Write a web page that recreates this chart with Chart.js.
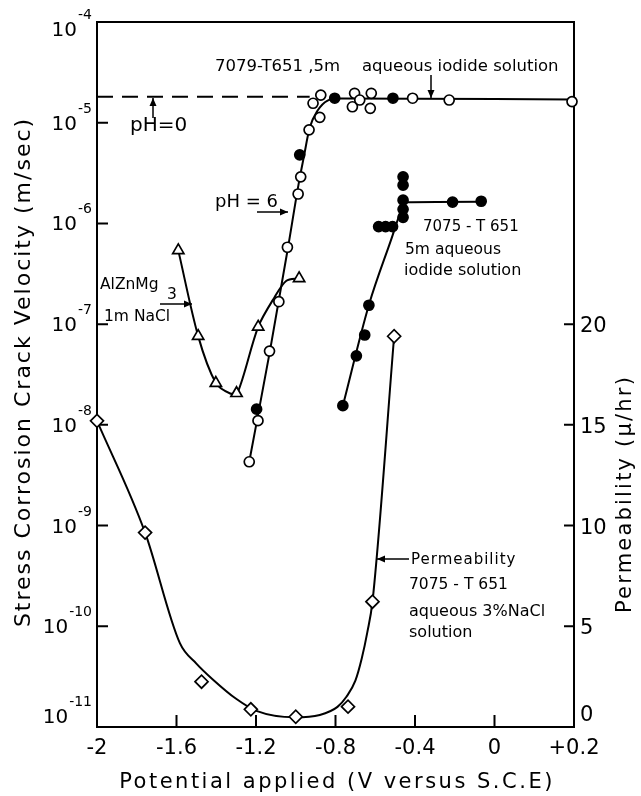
<!DOCTYPE html>
<html>
<head>
<meta charset="utf-8">
<script src="https://cdn.jsdelivr.net/npm/chart.js@4.4.1/dist/chart.umd.min.js"></script>
<style>
  html, body { margin: 0; padding: 0; background: #fff; }
  canvas { display: block; }
</style>
</head>
<body>
<canvas id="chart" width="641" height="796"></canvas>
<script>
// Axis ticks (the source figure prints its last potential tick as "+0.2")
const xTickValues = [-2, -1.6, -1.2, -0.8, -0.4, 0, 0.4];
const xTickLabels = ['-2', '-1.6', '-1.2', '-0.8', '-0.4', '0', '+0.2'];
const yTickValues = [1e-11, 1e-10, 1e-9, 1e-8, 1e-7, 1e-6, 1e-5, 1e-4];
const yTickExponents = ['-11', '-10', '-9', '-8', '-7', '-6', '-5', '-4'];
const permTickValues = [0, 5, 10, 15, 20];

// 7079-T651, 5m aqueous iodide solution (V vs S.C.E, m/sec)
const a7079OpenX = [-1.234, -1.19, -1.132, -1.085, -1.042, -0.988, -0.975, -0.933, -0.913, -0.879, -0.874,
  -0.715, -0.704, -0.678, -0.625, -0.62, -0.412, -0.228, 0.39];
const a7079OpenV = [4.3e-9, 1.1e-8, 5.4e-8, 1.67e-7, 5.8e-7, 1.96e-6, 2.9e-6, 8.5e-6, 1.56e-5, 1.13e-5, 1.88e-5,
  1.44e-5, 1.96e-5, 1.68e-5, 1.39e-5, 1.96e-5, 1.75e-5, 1.68e-5, 1.62e-5];
const a7079FilledX = [-1.197, -0.98, -0.804, -0.511];
const a7079FilledV = [1.43e-8, 4.8e-6, 1.75e-5, 1.75e-5];
const a7079CurveX = [-1.234, -1.13, -1.04, -0.985, -0.96, -0.93, -0.89, -0.84, -0.78, 0.39];
const a7079CurveV = [4.3e-9, 5.4e-8, 5.6e-7, 2.5e-6, 4.5e-6, 8.9e-6, 1.32e-5, 1.66e-5, 1.74e-5, 1.7e-5];

// pH = 0 level (dashed)
const ph0X = [-2, -0.93];
const ph0V = [1.81e-5, 1.81e-5];

// 7075-T651, 5m aqueous iodide solution
const a7075X = [-0.763, -0.695, -0.653, -0.632, -0.583, -0.548, -0.513, -0.46, -0.46, -0.46, -0.46, -0.46, -0.211, -0.067];
const a7075V = [1.55e-8, 4.85e-8, 7.8e-8, 1.54e-7, 9.3e-7, 9.3e-7, 9.3e-7, 2.9e-6, 2.4e-6, 1.7e-6, 1.38e-6, 1.15e-6, 1.63e-6, 1.66e-6];
const a7075CurveX = [-0.763, -0.632, -0.52, -0.462, -0.45, -0.067];
const a7075CurveV = [1.55e-8, 1.55e-7, 6.9e-7, 1.48e-6, 1.62e-6, 1.64e-6];

// AlZnMg3, 1m NaCl
const alznX = [-1.591, -1.491, -1.402, -1.298, -1.189, -0.983];
const alznV = [5.4e-7, 7.6e-8, 2.6e-8, 2.06e-8, 9.4e-8, 2.85e-7];
const alznCurveX = [-1.591, -1.491, -1.402, -1.33, -1.292, -1.189, -1.106, -1.047, -0.983];
const alznCurveV = [5.4e-7, 7.6e-8, 2.6e-8, 2.05e-8, 2.1e-8, 9.4e-8, 1.86e-7, 2.7e-7, 2.85e-7];

// Permeability, 7075-T651 aqueous 3% NaCl (micron/hr, right axis)
const permX = [-2, -1.758, -1.474, -1.226, -1.0, -0.737, -0.614, -0.505];
const permP = [15.2, 9.65, 2.25, 0.88, 0.51, 1.01, 6.22, 19.4];
const permCurveX = [-2, -1.758, -1.583, -1.5, -1.416, -1.3, -1.198, -1.005, -0.879, -0.79, -0.745, -0.7, -0.668, -0.64, -0.614, -0.505];
const permCurveP = [15.2, 9.65, 4.16, 3.15, 2.35, 1.4, 0.8, 0.48, 0.6, 1.0, 1.5, 2.3, 3.4, 4.7, 6.22, 19.4];

const FONT = '"DejaVu Sans", "Liberation Sans", sans-serif';

const pts = (xs, ys) => xs.map((x, i) => ({ x, y: ys[i] }));

function curve(xs, ys, axis, smooth) {
  const ds = {
    data: pts(xs, ys), yAxisID: axis, borderColor: '#000', borderWidth: 2,
    pointRadius: 0, fill: false, order: 2
  };
  if (smooth === 'monotone') ds.cubicInterpolationMode = 'monotone';
  else ds.tension = smooth;
  return ds;
}
function marks(xs, ys, axis, style, radius, filled) {
  return {
    data: pts(xs, ys), yAxisID: axis, showLine: false, pointStyle: style, clip: false,
    pointRadius: radius, pointHoverRadius: radius, pointBorderWidth: 1.7,
    pointBorderColor: '#000', pointBackgroundColor: filled ? '#000' : '#fff', order: 1
  };
}

// text notes and arrows on the plot
const notes = [
  { text: '7079-T651 ,5m', x: 215, y: 67, size: 16.5 },
  { text: 'aqueous iodide solution', x: 362, y: 67, size: 16.5 },
  { text: 'pH=0', x: 130, y: 126, size: 20 },
  { text: 'pH = 6', x: 215, y: 202, size: 18 },
  { text: '7075 - T 651', x: 423, y: 227, size: 15 },
  { text: '5m aqueous', x: 405, y: 250, size: 15.5 },
  { text: 'iodide solution', x: 404, y: 271, size: 16 },
  { text: 'AlZnMg', x: 100, y: 285, size: 15.5 },
  { text: '3', x: 167, y: 295, size: 15.5 },
  { text: '1m NaCl', x: 104, y: 317, size: 15.5 },
  { text: 'Permeability', x: 411, y: 560, size: 15, spacing: 1 },
  { text: '7075 - T 651', x: 409, y: 585, size: 15.5 },
  { text: 'aqueous 3%NaCl', x: 409, y: 612, size: 16 },
  { text: 'solution', x: 409, y: 633, size: 16 }
];
const arrows = [
  [153, 118, 153, 98],
  [257, 212, 288, 212],
  [431, 75, 431, 98],
  [160, 304, 192, 304],
  [409, 559, 377, 559]
];
// axis titles
const titles = [
  { text: 'Potential applied (V versus S.C.E)', x: 337, y: 783, rot: 0, size: 21, spacing: 2.5 },
  { text: 'Stress Corrosion Crack Velocity (m/sec)', x: 24, y: 372, rot: -Math.PI / 2, size: 22, spacing: 2 },
  { text: 'Permeability (\u03bc/hr)', x: 626, y: 494, rot: -Math.PI / 2, size: 21, spacing: 2.2 }
];

const decorations = {
  id: 'decorations',
  beforeDatasetsDraw(chart) {
    const { ctx, chartArea: a, scales } = chart;
    ctx.save();
    ctx.strokeStyle = '#000';
    ctx.lineWidth = 2;
    ctx.strokeRect(a.left, a.top, a.right - a.left, a.bottom - a.top);
    // inward tick marks
    ctx.beginPath();
    xTickValues.forEach(v => {
      const px = scales.x.getPixelForValue(v);
      ctx.moveTo(px, a.bottom); ctx.lineTo(px, a.bottom - 12);
    });
    yTickValues.forEach(v => {
      const py = scales.y.getPixelForValue(v);
      ctx.moveTo(a.left, py); ctx.lineTo(a.left + 11, py);
    });
    permTickValues.forEach(v => {
      const py = scales.y1.getPixelForValue(v);
      ctx.moveTo(a.right, py); ctx.lineTo(a.right - 10, py);
    });
    ctx.stroke();
    ctx.restore();
  },
  afterDraw(chart) {
    const { ctx, chartArea: a, scales } = chart;
    ctx.save();
    ctx.fillStyle = '#000';
    ctx.strokeStyle = '#000';
    // left tick labels: 10 with raised exponent
    yTickValues.forEach((v, i) => {
      let py = scales.y.getPixelForValue(v);
      py = Math.min(Math.max(py, a.top + 7), a.bottom - 11);
      ctx.font = '14px ' + FONT;
      ctx.textAlign = 'right';
      ctx.textBaseline = 'alphabetic';
      const expW = ctx.measureText(yTickExponents[i]).width;
      ctx.fillText(yTickExponents[i], a.left - 5, py - 10);
      ctx.font = '20px ' + FONT;
      ctx.fillText('10', a.left - 6 - expW, py + 7);
    });
    // right tick labels
    ctx.font = '21px ' + FONT;
    ctx.textAlign = 'left';
    permTickValues.forEach(v => {
      let py = scales.y1.getPixelForValue(v);
      py = Math.min(py, a.bottom - 14);
      ctx.fillText(String(v), a.right + 6, py + 8);
    });
    // axis titles
    titles.forEach(t => {
      ctx.save();
      ctx.translate(t.x, t.y);
      ctx.rotate(t.rot);
      ctx.textAlign = 'center';
      ctx.textBaseline = 'middle';
      ctx.font = t.size + 'px ' + FONT;
      ctx.letterSpacing = t.spacing + 'px';
      ctx.fillText(t.text, 0, 0);
      ctx.restore();
    });
    // notes
    ctx.textAlign = 'left';
    ctx.textBaseline = 'middle';
    notes.forEach(n => {
      ctx.font = n.size + 'px ' + FONT;
      ctx.letterSpacing = (n.spacing || 0) + 'px';
      ctx.fillText(n.text, n.x, n.y);
    });
    ctx.letterSpacing = '0px';
    // arrows
    ctx.lineWidth = 1.5;
    arrows.forEach(([x1, y1, x2, y2]) => {
      const ang = Math.atan2(y2 - y1, x2 - x1);
      ctx.beginPath();
      ctx.moveTo(x1, y1); ctx.lineTo(x2, y2);
      ctx.stroke();
      ctx.beginPath();
      ctx.moveTo(x2, y2);
      ctx.lineTo(x2 - 8 * Math.cos(ang) + 3.5 * Math.sin(ang), y2 - 8 * Math.sin(ang) - 3.5 * Math.cos(ang));
      ctx.lineTo(x2 - 8 * Math.cos(ang) - 3.5 * Math.sin(ang), y2 - 8 * Math.sin(ang) + 3.5 * Math.cos(ang));
      ctx.closePath();
      ctx.fill();
    });
    ctx.restore();
  }
};

new Chart(document.getElementById('chart'), {
  type: 'line',
  data: {
    datasets: [
      marks(a7079OpenX, a7079OpenV, 'y', 'circle', 5, false),
      marks(a7079FilledX, a7079FilledV, 'y', 'circle', 5, true),
      marks(a7075X, a7075V, 'y', 'circle', 5, true),
      marks(alznX, alznV, 'y', 'triangle', 6.5, false),
      marks(permX, permP, 'y1', 'rectRot', 6.5, false),
      curve(a7079CurveX, a7079CurveV, 'y', 'monotone'),
      Object.assign(curve(ph0X, ph0V, 'y', 0), { borderDash: [16, 9] }),
      curve(a7075CurveX, a7075CurveV, 'y', 'monotone'),
      curve(alznCurveX, alznCurveV, 'y', 0.3),
      curve(permCurveX, permCurveP, 'y1', 'monotone')
    ]
  },
  options: {
    responsive: false,
    animation: false,
    devicePixelRatio: 1,
    layout: { padding: { top: 22, left: 0, right: 0, bottom: 0 } },
    plugins: { legend: { display: false }, tooltip: { enabled: false } },
    scales: {
      x: {
        type: 'linear',
        min: -2,
        max: 0.4,
        afterBuildTicks: scale => { scale.ticks = xTickValues.map(v => ({ value: v })); },
        afterFit: scale => { scale.height = 69; },
        grid: { display: false, drawTicks: false },
        border: { display: false },
        ticks: {
          autoSkip: false,
          maxRotation: 0,
          padding: 9,
          color: '#000',
          font: { family: FONT, size: 21 },
          callback: (value, index) => xTickLabels[index]
        }
      },
      y: {
        type: 'logarithmic',
        position: 'left',
        min: 1e-11,
        max: 1e-4,
        afterFit: scale => { scale.width = 97; },
        grid: { display: false },
        border: { display: false },
        ticks: { display: false }
      },
      y1: {
        type: 'linear',
        position: 'right',
        min: 0,
        max: 35,
        afterFit: scale => { scale.width = 67; },
        grid: { display: false },
        border: { display: false },
        ticks: { display: false }
      }
    }
  },
  plugins: [decorations]
});
</script>
</body>
</html>
